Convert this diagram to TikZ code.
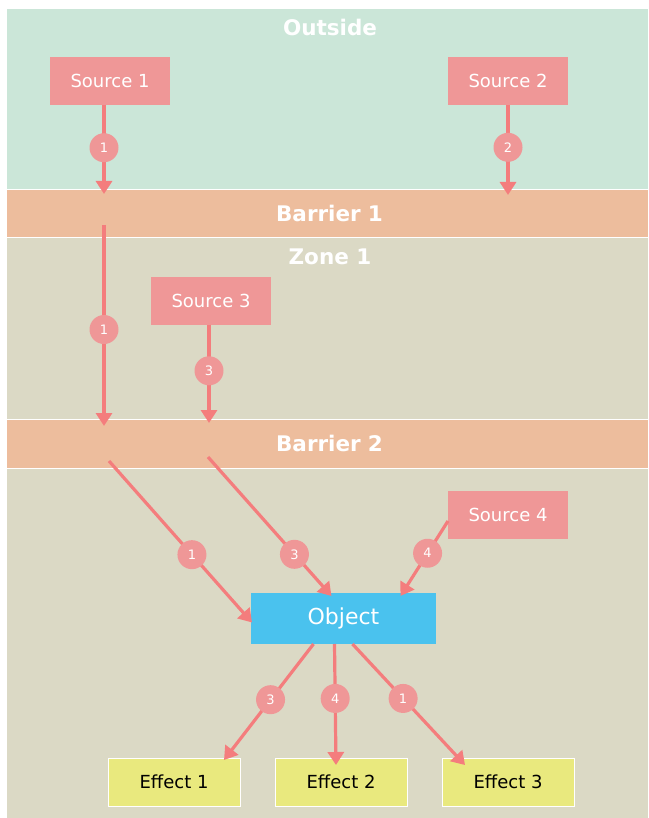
\documentclass[tikz,border=0pt]{standalone}
\usepackage{fontspec}
\setmainfont{DejaVu Sans}
\usepackage{tikz}
\usetikzlibrary{positioning,arrows.meta}
\definecolor{myoutside}{RGB}{203,230,216}
\definecolor{mybarrier}{RGB}{237,189,157}
\definecolor{myzone}{RGB}{219,217,197}
\definecolor{mysource}{RGB}{239,151,151}
\definecolor{myarrow}{RGB}{244,125,125}
\definecolor{myobject}{RGB}{74,194,238}
\definecolor{myeffect}{RGB}{233,233,126}

\begin{document}
\begin{tikzpicture}[x=1pt,y=-1pt,outer sep=0pt,node distance=35pt,
	band/.style={
		draw=white,
		line width=0.6pt,
		inner sep=0pt,
		minimum width=642pt},
	zoneb/.style={band,fill=myzone},
	barb/.style={band,fill=mybarrier,
		font={\fontsize{21.5}{25}\selectfont\bfseries\color{white}}},
	titleb/.style={font={\fontsize{21.5}{25}\selectfont\bfseries\color{white}}},
	srcb/.style={
		fill=mysource,
		minimum width=120pt,
		minimum height=48pt,
		inner sep=0pt,
		font={\fontsize{18}{21}\selectfont\color{white}}},
	objb/.style={srcb,fill=myobject,minimum width=185pt,minimum height=51pt,
		font={\fontsize{22}{25}\selectfont\color{white}}},
	effb/.style={srcb,draw=white,line width=0.8pt,fill=myeffect,minimum width=132pt,
		font={\fontsize{18}{21}\selectfont\color{black}}},
	badge/.style={circle,fill=mysource,minimum size=29pt,inner sep=0pt,
		font={\fontsize{13}{15}\selectfont\color{white}}},
	arr/.style={draw=myarrow,line width=3.2pt,-{Triangle[width=16pt,length=13pt]}},
	]
	\useasboundingbox[fill=white] (0,0) rectangle (648,818);
	\node[band,fill=myoutside,minimum height=181pt] (OUT) at (327,98.5) {};
	\node[barb,minimum height=48pt,text width=642pt,align=center] (BAR1) at (327,213) {\hspace*{5pt}Barrier 1};
	\node[zoneb,minimum height=182pt] (ZONE1) at (327,328) {};
	\node[barb,minimum height=49pt,text width=642pt,align=center] (BAR2) at (327,443.5) {\hspace*{5pt}Barrier 2};
	\node[zoneb,minimum height=350pt] (ZONE2) at (327,643) {};
	\node[titleb] (OUTT) at (330,27) {Outside};
	\node[titleb] (ZONET) at (330,257) {Zone 1};
	
	\node[srcb] (SRC1) at (110,81) {Source 1};
	\node[srcb] (SRC2) at (508,81) {Source 2};
	\node[srcb] (SRC3) at (211,300.5) {Source 3};
	\node[srcb] (SRC4) at (508,515) {Source 4};
	\node[objb] (OBJ) at (343.5,618.5) {Object};
	\node[effb] (EFF1) at (174,782) {Effect 1};
	\node[effb, right=of EFF1] (EFF2) {Effect 2};
	\node[effb, right=of EFF2] (EFF3) {Effect 3};
	
	\coordinate (T1a) at (104,194);
	\coordinate (S1b) at (104,225);
	\coordinate (T1b) at (104,426);
	\coordinate (T2) at (508,195);
	\coordinate (T3) at (209,423);
	\coordinate (S1c) at (109,461);
	\coordinate (S3c) at (208,457);
	
	\draw[arr] (SRC1.south -| T1a) -- node[badge,pos=0.48]{1} (T1a);
	\draw[arr] (SRC2) -- node[badge,pos=0.47]{2} (T2);
	\draw[arr] (S1b) -- node[badge,pos=0.52]{1} (T1b);
	\draw[arr] (SRC3.south -| T3) -- node[badge,pos=0.47]{3} (T3);
	\draw[arr] (S1c) -- node[badge,pos=0.58]{1} ([xshift=1pt,yshift=-4pt]OBJ.west);
	\draw[arr] (S3c) -- node[badge,pos=0.7]{3} ([xshift=-12pt,yshift=-3pt]OBJ.north);
	\draw[arr] ([yshift=-6pt]SRC4.west) -- node[badge,pos=0.43]{4} ([xshift=57pt,yshift=-3pt]OBJ.north);
	
	\draw[arr] ([xshift=-30pt]OBJ.south) -- node[badge,pos=0.48]{3} ([xshift=-16pt,yshift=-2pt]EFF1.north east);
	\draw[arr] ([xshift=-9pt]OBJ.south) -- node[badge,pos=0.45]{4} ([xshift=-5pt,yshift=-7pt]EFF2.north);
	\draw[arr] ([xshift=9pt]OBJ.south) -- node[badge,pos=0.45]{1} ([xshift=23pt,yshift=-7pt]EFF3.north west);
\end{tikzpicture}
\end{document}
